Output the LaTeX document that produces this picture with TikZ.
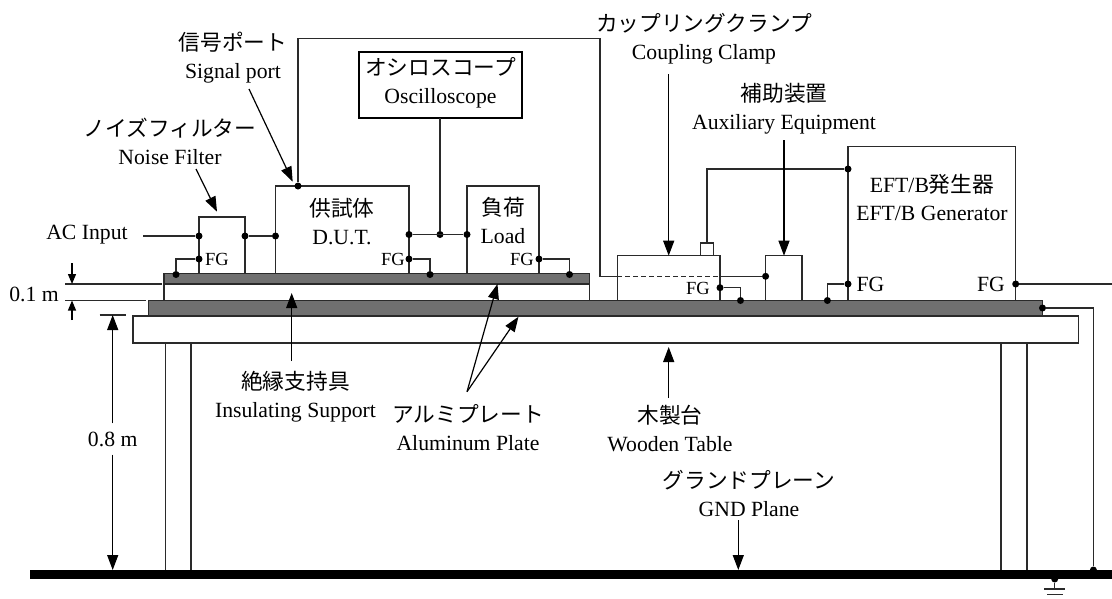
\documentclass[tikz,border=0pt]{standalone}
\usepackage{fontspec}
\setmainfont{Liberation Serif}
\newfontfamily\jpfont{Noto Sans CJK JP}
\usetikzlibrary{arrows.meta}
\definecolor{plategray}{HTML}{707070}
\definecolor{wiregray}{HTML}{2A2A2A}
\begin{document}
\begin{tikzpicture}[
        x=1pt, y=-1pt,
        wire/.style = {line width=1.35pt, draw=wiregray},
        box/.style = {wire, rectangle, anchor=north west, inner sep=0pt, outer sep=0pt},
        plate/.style = {box, fill=plategray},
        dot/.style = {circle, fill=black, inner sep=0pt, minimum size=7pt},
        pointer/.style = {line width=1.2pt, -{Triangle[length=15pt,width=11pt]}},
        lab/.style = {inner sep=0pt, align=center, font=\fontsize{21.7}{28}\selectfont},
        fgsmall/.style = {inner sep=0pt, font=\fontsize{18.5}{20}\selectfont},
        fgbig/.style = {inner sep=0pt, font=\fontsize{21.7}{24}\selectfont}
    ]
        \useasboundingbox (0,0) rectangle (1112,598);
        \fill[white] (0,0) rectangle (1112,598);

        \node[box, minimum width=945.5pt, minimum height=27pt] (table) at (133,316) {};
        \node[box, minimum width=25.3pt, minimum height=229pt] (legla) at (165.7,343) {};
        \node[box, minimum width=26pt, minimum height=229pt] (leglb) at (1001,343) {};
        \node[plate, minimum width=894pt, minimum height=15.5pt] (lowerplate) at (148.5,300.5) {};
        \node[box, minimum width=425.5pt, minimum height=16.5pt] (support) at (164,284) {};
        \node[plate, minimum width=425.5pt, minimum height=10.5pt] (upperplate) at (164,273.5) {};
        \node[box, fill=black, draw=none, minimum width=1082pt, minimum height=9pt] (gndplane) at (30,570) {};

        \node[box, minimum width=46pt, minimum height=56.5pt] (filter) at (199,217) {};
        \node[box, minimum width=133.5pt, minimum height=87.5pt] (dut) at (275.5,186) {};
        \node[box, minimum width=72pt, minimum height=87.5pt] (load) at (467,186) {};
        \node[box, minimum width=102.7pt, minimum height=44.8pt] (clamp) at (617.3,255.7) {};
        \node[box, minimum width=13.2pt, minimum height=12.7pt] (clampport) at (700.5,243) {};
        \node[box, minimum width=36.4pt, minimum height=44.8pt] (aux) at (765.6,255.7) {};
        \node[box, minimum width=167.7pt, minimum height=154.2pt] (gen) at (848,146.3) {};
        \node[box, line width=2pt, draw=black, minimum width=162.4pt, minimum height=66pt] (scope) at (359.3,51.7) {};

        \node[lab] (scopelab) at (440.5,83) {{\jpfont オシロスコープ}\\Oscilloscope};
        \node[lab] (dutlab) at (342,222) {{\jpfont 供試体}\\D.U.T.};
        \node[lab] (loadlab) at (503,220) {{\jpfont 負荷}\\Load};
        \node[lab] (genlab) at (932,197) {EFT/B{\jpfont 発生器}\\EFT/B Generator};
        \node[lab] (signallab) at (233,57.5) {{\jpfont 信号ポート}\\Signal port};
        \node[lab] (noiselab) at (170,141.5) {{\jpfont ノイズフィルター}\\Noise Filter};
        \node[lab] (clamplab) at (704,39) {{\jpfont カップリングクランプ}\\Coupling Clamp};
        \node[lab] (auxlab) at (784,108.5) {{\jpfont 補助装置}\\Auxiliary Equipment};
        \node[lab] (supportlab) at (295.5,397) {{\jpfont 絶縁支持具}\\Insulating Support};
        \node[lab] (alumlab) at (468,428) {{\jpfont アルミプレート}\\Aluminum Plate};
        \node[lab] (tablelab) at (670,428) {{\jpfont 木製台}\\Wooden Table};
        \node[lab] (gndlab) at (749,493.5) {{\jpfont グランドプレーン}\\GND Plane};
        \node[lab] (aclab) at (87,235) {AC Input};
        \node[lab] (tenthlab) at (34,294) {0.1 m};
        \node[lab, inner ysep=8pt] (eightlab) at (112.7,439) {0.8 m};

        \node[fgsmall] (filterfg) at (217,259) {FG};
        \node[fgsmall] (dutfg) at (393,259) {FG};
        \node[fgsmall] (loadfg) at (522,259) {FG};
        \node[fgsmall] (clampfg) at (698,288) {FG};
        \node[fgbig] (genfga) at (870.5,284) {FG};
        \node[fgbig] (genfgb) at (991,284) {FG};

        \node[dot] (filterin) at (199,236) {};
        \node[dot] (filterout) at (245,236) {};
        \node[dot] (filterearth) at (199,259) {};
        \node[dot] (filterbond) at (176,274.5) {};
        \node[dot] (dutin) at (275.5,236) {};
        \node[dot] (dutport) at (298,186) {};
        \node[dot] (dutout) at (409,234.5) {};
        \node[dot] (dutearth) at (409,259) {};
        \node[dot] (dutbond) at (430,274.5) {};
        \node[dot] (scopetap) at (440,234.5) {};
        \node[dot] (loadin) at (467,234.5) {};
        \node[dot] (loadearth) at (539,259) {};
        \node[dot] (loadbond) at (569.5,274.5) {};
        \node[dot] (auxin) at (765.6,276.3) {};
        \node[dot] (clampearth) at (720,287.7) {};
        \node[dot] (clampbond) at (740.5,300.5) {};
        \node[dot] (genbond) at (827.4,300.5) {};
        \node[dot] (genearth) at (848,284) {};
        \node[dot] (genpulse) at (848,169) {};
        \node[dot] (genout) at (1015.7,284) {};
        \node[dot] (platedot) at (1042.5,308) {};
        \node[dot] (planedot) at (1093.4,570) {};
        \node[dot] (earthdot) at (1054.7,579) {};

        \coordinate (acstart) at (143,236);
        \coordinate (rightedge) at (1112,284);
        \coordinate (bendtopl) at (298,38.5);
        \coordinate (bendtopr) at (600,38.5);
        \coordinate (bendlow) at (600,276.3);
        \coordinate (clampl) at (617.3,276.3);
        \coordinate (clampr) at (720,276.3);
        \coordinate (pulsebend) at (707,169);
        \coordinate (earthstem) at (1054.7,589);
        \coordinate (earthal) at (1044,589);
        \coordinate (earthar) at (1065,589);
        \coordinate (earthbl) at (1047,594.7);
        \coordinate (earthbr) at (1063,594.7);

        \draw[wire] (acstart) -- (filterin);
        \draw[wire] (filterout) -- (dutin);
        \draw[wire] (filterearth) -| (filterbond);
        \draw[wire] (dutport) -- (bendtopl) -- (bendtopr) -- (bendlow) -- (clampl);
        \draw[wire, dashed, dash pattern=on 5pt off 3pt] (clampl) -- (clampr);
        \draw[wire] (clampr) -- (auxin);
        \draw[wire] (dutout) -- (loadin);
        \draw[wire] (scope.south -| scopetap) -- (scopetap);
        \draw[wire] (dutearth) -| (dutbond);
        \draw[wire] (loadearth) -| (loadbond);
        \draw[wire] (clampearth) -| (clampbond);
        \draw[wire] (genearth) -| (genbond);
        \draw[wire] (clampport.north -| pulsebend) -- (pulsebend) -- (genpulse);
        \draw[wire] (genout) -- (rightedge);
        \draw[wire] (platedot) -| (planedot);
        \draw[wire] (earthdot) -- (earthstem);
        \draw[wire] (earthal) -- (earthar);
        \draw[wire] (earthbl) -- (earthbr);

        \coordinate (signaltail) at (249,89);
        \coordinate (signaltip) at (292.7,181.7);
        \coordinate (noisetail) at (196,169);
        \coordinate (noisetip) at (217,211.7);
        \coordinate (clamptail) at (668.7,74);
        \coordinate (clamptip) at (668.7,255.7);
        \coordinate (auxtail) at (784,140);
        \coordinate (auxtip) at (784,255.7);
        \coordinate (supporttail) at (291.7,361);
        \coordinate (supporttip) at (291.7,293);
        \coordinate (alumtail) at (467,391.7);
        \coordinate (alumtipa) at (497.5,284);
        \coordinate (alumtipb) at (518.5,316.7);
        \coordinate (tabletail) at (668.7,398);
        \coordinate (tabletip) at (668.7,347);
        \coordinate (gndtail) at (738.3,520);
        \coordinate (gndtip) at (738.3,570);

        \draw[pointer] (signaltail) -- (signaltip);
        \draw[pointer] (noisetail) -- (noisetip);
        \draw[pointer] (clamptail) -- (clamptip);
        \draw[pointer] (auxtail) -- (auxtip);
        \draw[pointer] (supporttail) -- (supporttip);
        \draw[pointer] (alumtail) -- (alumtipa);
        \draw[pointer] (alumtail) -- (alumtipb);
        \draw[pointer] (tabletail) -- (tabletip);
        \draw[pointer] (gndtail) -- (gndtip);

        \coordinate (dimtopa) at (72,263);
        \coordinate (dimtopb) at (72,284);
        \coordinate (dimlowa) at (72,320);
        \coordinate (dimlowb) at (72,300.5);
        \coordinate (extal) at (65,284);
        \coordinate (extar) at (162,284);
        \coordinate (extbl) at (65,300.5);
        \coordinate (extbr) at (145.5,300.5);
        \coordinate (extcl) at (99.5,315);
        \coordinate (extcr) at (126,315);
        \coordinate (eighttop) at (112.7,315);
        \coordinate (eightlow) at (112.7,570);

        \draw[wire] (extal) -- (extar);
        \draw[wire] (extbl) -- (extbr);
        \draw[wire] (extcl) -- (extcr);
        \draw[pointer, -{Triangle[length=10pt,width=8pt]}] (dimtopa) -- (dimtopb);
        \draw[pointer, -{Triangle[length=10pt,width=8pt]}] (dimlowa) -- (dimlowb);
        \draw[pointer] (eightlab) -- (eighttop);
        \draw[pointer] (eightlab) -- (eightlow);
    \end{tikzpicture}
\end{document}
